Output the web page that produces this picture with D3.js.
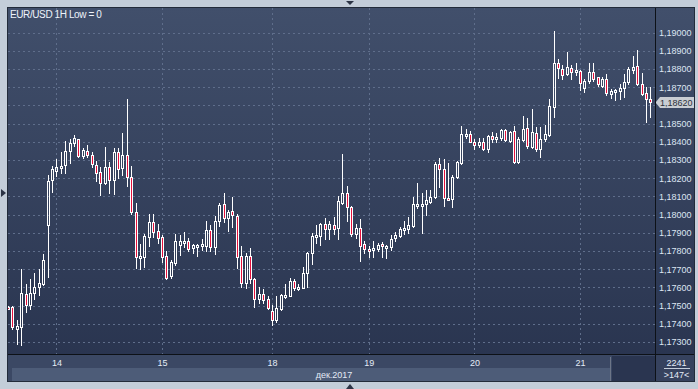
<!DOCTYPE html>
<html>
<head>
<meta charset="utf-8">
<script src="https://cdn.jsdelivr.net/npm/d3@7"></script>
<style>
  body { margin: 0; background: #c3cdd9; }
  svg { display: block; font-family: "Liberation Sans", Arial, sans-serif; }
</style>
</head>
<body>
<div id="chart"></div>
<script>
// EUR/USD 1H, 147 hourly candles
const open = [
  1.17492,1.17490,1.17373,1.17384,1.17564,1.17502,1.17567,1.17600,1.17619,1.17941,
  1.18189,1.18241,1.18260,1.18271,1.18348,1.18395,1.18414,1.18324,1.18348,1.18328,
  1.18271,1.18233,1.18175,1.18260,1.18189,1.18343,1.18258,1.18328,1.18205,1.18013,
  1.17769,1.17769,1.17875,1.17958,1.17910,1.17879,1.17773,1.17664,1.17736,1.17835,
  1.17842,1.17853,1.17815,1.17827,1.17829,1.17829,1.17915,1.17824,1.17965,1.18057,
  1.17983,1.18020,1.17992,1.17773,1.17626,1.17773,1.17644,1.17536,1.17564,1.17535,
  1.17472,1.17421,1.17481,1.17547,1.17554,1.17635,1.17598,1.17598,1.17677,1.17787,
  1.17884,1.17884,1.17947,1.17919,1.17941,1.17928,1.18066,1.18117,1.18040,1.17892,
  1.17926,1.17837,1.17811,1.17805,1.17813,1.17838,1.17822,1.17822,1.17870,1.17884,
  1.17921,1.17923,1.17939,1.18049,1.18053,1.18057,1.18071,1.18098,1.18277,1.18252,
  1.18090,1.18084,1.18208,1.18282,1.18438,1.18441,1.18401,1.18384,1.18401,1.18362,
  1.18432,1.18414,1.18423,1.18465,1.18403,1.18458,1.18289,1.18410,1.18474,1.18373,
  1.18447,1.18362,1.18416,1.18438,1.18593,1.18832,1.18802,1.18771,1.18804,1.18786,
  1.18791,1.18694,1.18736,1.18782,1.18755,1.18707,1.18747,1.18663,1.18676,1.18681,
  1.18694,1.18729,1.18793,1.18817,1.18716,1.18667,1.18634
];
const high = [
  1.17498,1.17498,1.17421,1.17701,1.17619,1.17646,1.17677,1.17701,1.17782,1.18218,
  1.18267,1.18304,1.18344,1.18406,1.18416,1.18438,1.18416,1.18365,1.18383,1.18344,
  1.18293,1.18262,1.18370,1.18291,1.18365,1.18365,1.18447,1.18636,1.18267,1.18066,
  1.17838,1.17895,1.18003,1.18003,1.17948,1.17888,1.17800,1.17751,1.17893,1.17888,
  1.17903,1.17871,1.17838,1.17838,1.17864,1.17965,1.17943,1.17994,1.18066,1.18119,
  1.18025,1.18097,1.18003,1.17827,1.17787,1.17816,1.17653,1.17604,1.17591,1.17553,
  1.17503,1.17553,1.17564,1.17619,1.17650,1.17644,1.17617,1.17714,1.17796,1.17901,
  1.17943,1.17956,1.17983,1.17963,1.17985,1.18102,1.18335,1.18156,1.18047,1.17947,
  1.17978,1.17853,1.17827,1.17855,1.17842,1.17848,1.17835,1.17886,1.17904,1.17930,
  1.17963,1.17985,1.18095,1.18174,1.18120,1.18134,1.18134,1.18288,1.18310,1.18306,
  1.18284,1.18216,1.18295,1.18487,1.18469,1.18461,1.18417,1.18420,1.18420,1.18438,
  1.18454,1.18447,1.18469,1.18471,1.18460,1.18487,1.18428,1.18540,1.18529,1.18581,
  1.18483,1.18482,1.18491,1.18636,1.19009,1.18854,1.18824,1.18892,1.18824,1.18835,
  1.18795,1.18747,1.18835,1.18832,1.18758,1.18755,1.18771,1.18689,1.18691,1.18716,
  1.18771,1.18813,1.18872,1.18903,1.18777,1.18703,1.18700
];
const low = [
  1.17482,1.17370,1.17289,1.17282,1.17465,1.17483,1.17536,1.17560,1.17615,1.17659,
  1.18126,1.18214,1.18227,1.18227,1.18285,1.18377,1.18318,1.18310,1.18318,1.18263,
  1.18185,1.18108,1.18167,1.18120,1.18115,1.18203,1.18218,1.18159,1.18003,1.17708,
  1.17703,1.17714,1.17829,1.17879,1.17846,1.17741,1.17648,1.17653,1.17725,1.17780,
  1.17824,1.17802,1.17787,1.17774,1.17805,1.17800,1.17800,1.17782,1.17937,1.17961,
  1.17912,1.17934,1.17708,1.17604,1.17598,1.17626,1.17494,1.17516,1.17516,1.17480,
  1.17395,1.17411,1.17476,1.17540,1.17552,1.17586,1.17586,1.17596,1.17604,1.17730,
  1.17846,1.17835,1.17864,1.17866,1.17893,1.17868,1.18057,1.17967,1.17882,1.17871,
  1.17747,1.17791,1.17769,1.17769,1.17802,1.17769,1.17763,1.17804,1.17855,1.17879,
  1.17895,1.17897,1.17934,1.18038,1.17901,1.17996,1.18062,1.18093,1.18150,1.18049,
  1.18079,1.18044,1.18203,1.18278,1.18421,1.18398,1.18361,1.18370,1.18355,1.18344,
  1.18401,1.18399,1.18410,1.18403,1.18400,1.18285,1.18285,1.18406,1.18365,1.18365,
  1.18348,1.18318,1.18403,1.18432,1.18538,1.18749,1.18747,1.18767,1.18747,1.18767,
  1.18685,1.18676,1.18725,1.18734,1.18707,1.18703,1.18658,1.18639,1.18632,1.18634,
  1.18648,1.18718,1.18780,1.18711,1.18659,1.18511,1.18538
];
const close = [
  1.17490,1.17381,1.17388,1.17567,1.17502,1.17567,1.17602,1.17622,1.17749,1.18185,
  1.18249,1.18260,1.18267,1.18348,1.18395,1.18421,1.18324,1.18354,1.18329,1.18277,
  1.18230,1.18175,1.18260,1.18189,1.18344,1.18249,1.18328,1.18208,1.18013,1.17769,
  1.17773,1.17882,1.17958,1.17903,1.17870,1.17769,1.17653,1.17740,1.17855,1.17855,
  1.17857,1.17809,1.17833,1.17833,1.17840,1.17915,1.17824,1.17967,1.18051,1.17983,
  1.18014,1.17996,1.17769,1.17626,1.17773,1.17644,1.17538,1.17564,1.17531,1.17488,
  1.17421,1.17487,1.17558,1.17558,1.17637,1.17598,1.17604,1.17679,1.17791,1.17882,
  1.17890,1.17948,1.17919,1.17947,1.17923,1.18075,1.18117,1.18040,1.17893,1.17926,
  1.17829,1.17809,1.17805,1.17816,1.17833,1.17826,1.17827,1.17864,1.17890,1.17921,
  1.17928,1.17941,1.18058,1.18057,1.18060,1.18080,1.18095,1.18277,1.18249,1.18090,
  1.18080,1.18207,1.18289,1.18441,1.18443,1.18401,1.18384,1.18401,1.18362,1.18432,
  1.18414,1.18427,1.18465,1.18409,1.18454,1.18288,1.18416,1.18471,1.18376,1.18452,
  1.18362,1.18416,1.18441,1.18595,1.18832,1.18804,1.18766,1.18810,1.18782,1.18795,
  1.18722,1.18734,1.18782,1.18747,1.18716,1.18747,1.18667,1.18681,1.18687,1.18694,
  1.18729,1.18799,1.18810,1.18716,1.18663,1.18634,1.18620
];

// day separators (candle index where each day starts) and their labels
const dayIndex = [11, 35, 60, 82, 106, 130];
const dayLabels = ["14", "15", "18", "19", "20", "21"];
const monthLabel = "дек.2017";
const title = "EUR/USD 1H Low = 0";
const barCount = "2241";
const visibleCount = ">147<";

const candles = open.map((o, i) => ({ i, o, h: high[i], l: low[i], c: close[i] }));
const last = candles[candles.length - 1];

////////////////////////////  Init  ////////////////////////////
const width = 698, height = 389;
const plot = { left: 8, right: 655, top: 8, bottom: 354 };

const svg = d3.select("#chart").append("svg")
  .attr("width", width).attr("height", height);

const defs = svg.append("defs");
const grad = defs.append("linearGradient").attr("id", "bg")
  .attr("x1", 0).attr("y1", 0).attr("x2", 0).attr("y2", 1);
grad.append("stop").attr("offset", "0%").attr("stop-color", "#414f6b");
grad.append("stop").attr("offset", "100%").attr("stop-color", "#28334e");

defs.append("clipPath").attr("id", "clip").append("rect")
  .attr("x", plot.left).attr("y", plot.top)
  .attr("width", plot.right - plot.left).attr("height", plot.bottom - plot.top);

// scales
const x = d3.scaleLinear().domain([0, candles.length - 1]).range([8, 650.4]);
const y = d3.scaleLinear().domain([1.173, 1.190]).range([342, 32.7]);
const fmt = v => d3.format(".5f")(v).replace(".", ",");

// frame
svg.append("rect")
  .attr("x", 7.5).attr("y", 7.5).attr("width", 687).attr("height", 374)
  .attr("fill", "url(#bg)").attr("stroke", "#222b3a");

////////////////////////////  Grid  ////////////////////////////
const ticks = y.ticks(17);

svg.append("g").selectAll("line").data(ticks).join("line")
  .attr("x1", plot.left).attr("x2", plot.right)
  .attr("y1", d => Math.round(y(d)) + 0.5).attr("y2", d => Math.round(y(d)) + 0.5)
  .attr("stroke", "#5f6e8b").attr("stroke-dasharray", "2,3");

svg.append("g").selectAll("line").data(dayIndex).join("line")
  .attr("x1", d => Math.round(x(d)) + 0.5).attr("x2", d => Math.round(x(d)) + 0.5)
  .attr("y1", plot.top).attr("y2", plot.bottom)
  .attr("stroke", "#5f6e8b").attr("stroke-dasharray", "2,3");

////////////////////////////  Candles  ////////////////////////////
const g = svg.append("g").attr("clip-path", "url(#clip)");

const bar = g.selectAll("g").data(candles).join("g");

const px = d => Math.round(x(d.i)) - 1;          // left pixel of 3px body
const topPx = d => Math.round(y(Math.max(d.o, d.c)));
const botPx = d => Math.max(Math.round(y(Math.min(d.o, d.c))), topPx(d) + 2);

// upper wick
bar.append("line")
  .attr("x1", d => px(d) + 1.5).attr("x2", d => px(d) + 1.5)
  .attr("y1", d => Math.round(y(d.h))).attr("y2", d => topPx(d) + 0.5)
  .attr("stroke", "#ffffff");
// lower wick
bar.append("line")
  .attr("x1", d => px(d) + 1.5).attr("x2", d => px(d) + 1.5)
  .attr("y1", d => botPx(d) + 0.5).attr("y2", d => Math.round(y(d.l)) + 1)
  .attr("stroke", "#ffffff");
// body
bar.append("rect")
  .attr("x", d => px(d) + 0.5)
  .attr("y", d => topPx(d) + 0.5)
  .attr("width", 2)
  .attr("height", d => botPx(d) - topPx(d))
  .attr("fill", d => d.c < d.o ? "#e5103b" : "none")
  .attr("stroke", "#ffffff");

svg.append("text")
  .attr("x", 10).attr("y", 18)
  .attr("fill", "#eef3fa").attr("font-size", "10px").attr("letter-spacing", "-0.4px")
  .text(title);

////////////////////////////  Right axis  ////////////////////////////
const yLast = y(last.c);

svg.append("g").selectAll("text")
  .data(ticks.filter(t => Math.abs(y(t) - yLast) > 9))
  .join("text")
  .attr("x", 659).attr("y", d => y(d) + 3.3)
  .attr("fill", "#dde6f3").attr("font-size", "9px")
  .text(fmt);

const yl = Math.round(yLast);
svg.append("path")
  .attr("d", `M655.5,${yl + 0.5}L660,${yl - 5}H694V${yl + 6}H660Z`)
  .attr("fill", "#c9cdd3");
svg.append("text")
  .attr("x", 660).attr("y", yl + 3.5)
  .attr("fill", "#2b303a").attr("font-size", "9px")
  .text(fmt(last.c));

////////////////////////////  Bottom axis  ////////////////////////////
svg.append("rect").attr("x", 8).attr("y", 355).attr("width", 647).attr("height", 26)
  .attr("fill", "#3b4864");
svg.append("rect").attr("x", 12).attr("y", 368).attr("width", 598).attr("height", 13)
  .attr("fill", "#4d5c78");
svg.append("rect").attr("x", 612).attr("y", 356).attr("width", 43).attr("height", 25)
  .attr("fill", "#2a3550");
svg.append("line").attr("x1", 610.5).attr("x2", 610.5).attr("y1", 357).attr("y2", 381)
  .attr("stroke", "#6c7587");
svg.append("rect").attr("x", 656).attr("y", 355).attr("width", 38).attr("height", 26)
  .attr("fill", "#36425e");

svg.append("g").selectAll("text").data(dayIndex).join("text")
  .attr("x", d => x(d) + 0.5).attr("y", 366)
  .attr("text-anchor", "middle")
  .attr("fill", "#e4ebf6").attr("font-size", "9px")
  .text((d, i) => dayLabels[i]);

svg.append("text")
  .attr("x", 334).attr("y", 377.5).attr("text-anchor", "middle")
  .attr("fill", "#e4ebf6").attr("font-size", "9px")
  .text(monthLabel);

svg.append("text")
  .attr("x", 676.5).attr("y", 366).attr("text-anchor", "middle")
  .attr("fill", "#e4ebf6").attr("font-size", "9px")
  .text(barCount);
svg.append("line").attr("x1", 664).attr("x2", 690).attr("y1", 368.5).attr("y2", 368.5)
  .attr("stroke", "#c5cedb");
svg.append("text")
  .attr("x", 676.5).attr("y", 378).attr("text-anchor", "middle")
  .attr("fill", "#e4ebf6").attr("font-size", "9px")
  .text(visibleCount);

// black separators
svg.append("line").attr("x1", 8).attr("x2", 694).attr("y1", 354.5).attr("y2", 354.5)
  .attr("stroke", "#0d1117");
svg.append("line").attr("x1", 655.5).attr("x2", 655.5).attr("y1", 8).attr("y2", 381)
  .attr("stroke", "#0d1117");

// little scroll arrows on the outer frame
svg.append("path").attr("d", "M346,1H354L350,5Z").attr("fill", "#2c3446");
svg.append("path").attr("d", "M346,389H354L350,384Z").attr("fill", "#2c3446");
svg.append("path").attr("d", "M1,189V197L6,193Z").attr("fill", "#2c3446");
</script>
</body>
</html>
